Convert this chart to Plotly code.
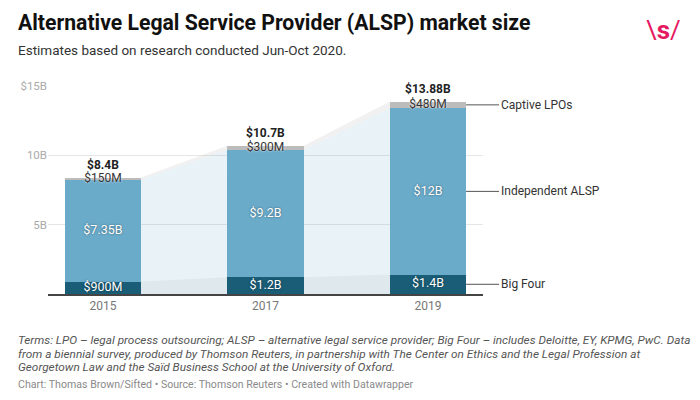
import plotly.graph_objects as go

# ---- data ----
years = ["2015", "2017", "2019"]
big_four = [0.9, 1.2, 1.4]
independent = [7.35, 9.2, 12.0]
captive = [0.15, 0.3, 0.48]
totals = [8.4, 10.7, 13.88]
big_four_labels = ["$900M", "$1.2B", "$1.4B"]
independent_labels = ["$7.35B", "$9.2B", "$12B"]
captive_labels = ["$150M", "$300M", "$480M"]
total_labels = ["$8.4B", "$10.7B", "$13.88B"]
y_tickvals = [5, 10, 15]
y_ticktext = ["5B", "10B", "$15B"]
series_names = ["Big Four", "Independent ALSP", "Captive LPOs"]
note_lines = [
    "Terms: LPO – legal process outsourcing; ALSP – alternative legal service provider; Big Four – includes Deloitte, EY, KPMG, PwC. Data",
    "from a biennial survey, produced by Thomson Reuters, in partnership with The Center on Ethics and the Legal Profession at",
    "Georgetown Law and the Saïd Business School at the University of Oxford.",
]

# ---- style ----
W, H = 700, 400
ML, MR, MT, MB = 48, 217, 86, 106
PW, PH = W - ML - MR, H - MT - MB
FONT = "Roboto"
C_BIG = "#195d77"
C_IND = "#6aabca"
C_CAP = "#bcbcbc"
A_BIG = "rgba(25,93,119,0.14)"
A_IND = "rgba(106,171,202,0.15)"
A_CAP = "rgba(190,190,190,0.22)"
BW = 0.468
XR = [-0.338, 2.338]


def px_x(px):
    return (px - ML) / PW


def px_y(py):
    return (H - MB - py) / PH


xs = list(range(len(years)))
bottom_ind = big_four
top_ind = [b + i for b, i in zip(big_four, independent)]
top_cap = [t + c for t, c in zip(top_ind, captive)]

fig = go.Figure()

# connecting areas between bars
def add_area(lower, upper, color):
    for i in range(len(xs) - 1):
        xl = xs[i] + BW / 2
        xr = xs[i + 1] - BW / 2
        fig.add_trace(go.Scatter(
            x=[xl, xr, xr, xl, xl],
            y=[lower[i], lower[i + 1], upper[i + 1], upper[i], lower[i]],
            fill="toself", fillcolor=color, mode="lines",
            line=dict(width=0), hoverinfo="skip", showlegend=False))

add_area([0] * len(xs), bottom_ind, A_BIG)
add_area(bottom_ind, top_ind, A_IND)
add_area(top_ind, top_cap, A_CAP)

# stacked bars
for vals, col, name in zip([big_four, independent, captive], [C_BIG, C_IND, C_CAP], series_names):
    fig.add_trace(go.Bar(x=xs, y=vals, width=BW, marker=dict(color=col, line=dict(width=0)),
                         name=name, hoverinfo="skip", showlegend=False))

# segment labels
fig.add_trace(go.Scatter(
    x=xs, y=[b / 2 for b in big_four], text=big_four_labels, mode="text",
    textfont=dict(family=FONT, size=12.5, color="white", shadow="0px 0px 2px rgba(0,0,0,0.5)"),
    cliponaxis=False, hoverinfo="skip", showlegend=False))
fig.add_trace(go.Scatter(
    x=xs, y=[b + i / 2 for b, i in zip(big_four, independent)], text=independent_labels, mode="text",
    textfont=dict(family=FONT, size=12.5, color="white", shadow="0px 0px 2px rgba(0,0,0,0.5)"),
    cliponaxis=False, hoverinfo="skip", showlegend=False))
fig.add_trace(go.Scatter(
    x=xs, y=[t + c / 2 for t, c in zip(top_ind, captive)], text=captive_labels, mode="text",
    textfont=dict(family=FONT, size=12, color="#333333", shadow="0px 0px 2px white"),
    cliponaxis=False, hoverinfo="skip", showlegend=False))

annotations = []
for x, t, lab in zip(xs, totals, total_labels):
    annotations.append(dict(x=x, y=t, xref="x", yref="y", text="<b>" + lab + "</b>",
                            showarrow=False, yshift=13, yanchor="middle",
                            font=dict(family=FONT, size=12, color="#222222")))

# right-side series labels
last = len(xs) - 1
label_y = [big_four[last] / 2,
           big_four[last] + independent[last] / 2,
           top_ind[last] + captive[last] / 2]
for name, yv in zip(series_names, label_y):
    annotations.append(dict(x=xs[last] + BW / 2, y=yv, xref="x", yref="y", text=name,
                            showarrow=True, arrowhead=0, arrowwidth=1, arrowcolor="#555555",
                            ax=33, ay=0, xanchor="left", standoff=0,
                            font=dict(family=FONT, size=12, color="#333333")))

# titles and notes
annotations.append(dict(x=px_x(16), y=px_y(22), xref="paper", yref="paper",
                        text="<b>Alternative Legal Service Provider (ALSP) market size</b>",
                        showarrow=False, xanchor="left", yanchor="middle",
                        font=dict(family=FONT, size=21.2, color="#111111")))
annotations.append(dict(x=px_x(16), y=px_y(50), xref="paper", yref="paper",
                        text="Estimates based on research conducted Jun-Oct 2020.",
                        showarrow=False, xanchor="left", yanchor="middle",
                        font=dict(family=FONT, size=13.5, color="#333333")))
annotations.append(dict(x=px_x(663), y=px_y(30), xref="paper", yref="paper",
                        text="\\<b>s</b>/",
                        showarrow=False, xanchor="center", yanchor="middle",
                        font=dict(family=FONT, size=26, color="#e5195f")))
for line, py in zip(note_lines, [340, 353.5, 367]):
    annotations.append(dict(x=px_x(16), y=px_y(py), xref="paper", yref="paper",
                            text="<i>" + line + "</i>",
                            showarrow=False, xanchor="left", yanchor="middle",
                            font=dict(family=FONT, size=11.8, color="#555555")))
annotations.append(dict(x=px_x(16), y=px_y(384), xref="paper", yref="paper",
                        text="Chart: Thomas Brown/Sifted • Source: Thomson Reuters • Created with Datawrapper",
                        showarrow=False, xanchor="left", yanchor="middle",
                        font=dict(family=FONT, size=10.6, color="#8a8a8a")))

fig.update_layout(
    width=W, height=H, margin=dict(l=ML, r=MR, t=MT, b=MB),
    paper_bgcolor="white", plot_bgcolor="white",
    barmode="stack", showlegend=False,
    font=dict(family=FONT),
    annotations=annotations,
    xaxis=dict(range=XR, tickvals=xs, ticktext=years, showgrid=False, zeroline=False,
               showline=True, linecolor="#444444", linewidth=1.5, ticks="",
               tickfont=dict(family=FONT, size=12, color="#777777")),
    yaxis=dict(range=[0, 15], tickvals=y_tickvals, ticktext=y_ticktext, showgrid=True,
               gridcolor="#e6e6e6", gridwidth=1, zeroline=False, showline=False, ticks="",
               tickfont=dict(family=FONT, size=11.5, color="#aaaaaa")),
)

fig.write_html("out.html", config={"displayModeBar": False},
               post_script="document.body.style.margin='0';document.body.style.overflow='hidden';")
